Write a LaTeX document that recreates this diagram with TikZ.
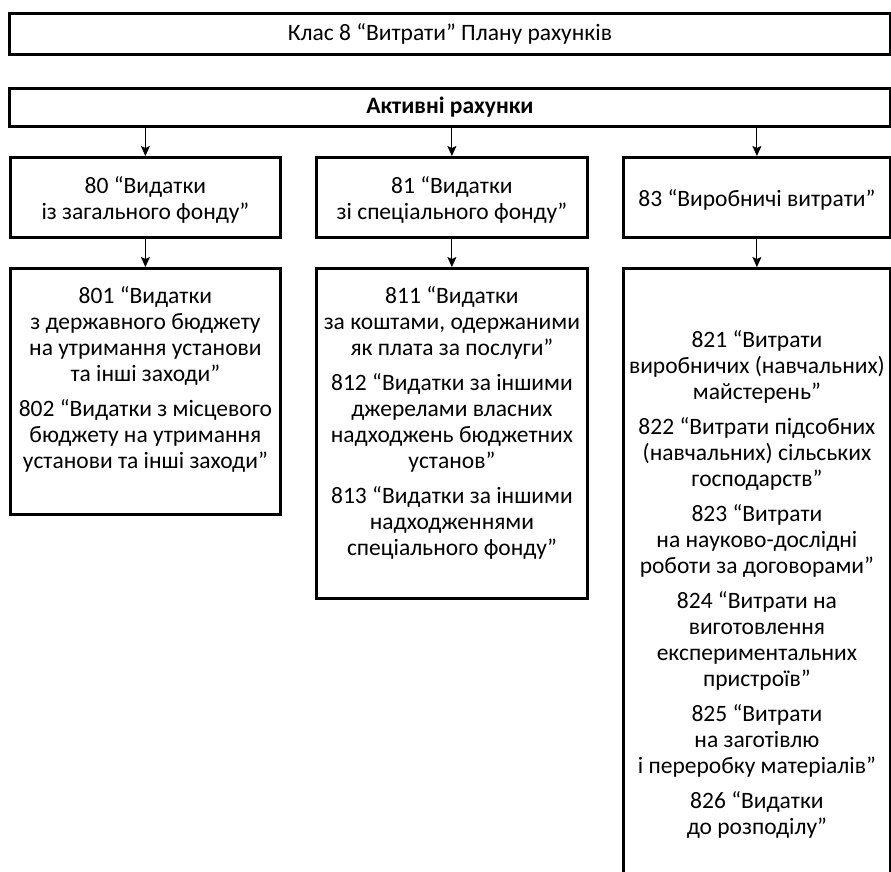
\documentclass[tikz,border=0pt]{standalone}
\usepackage{fontspec}
\setmainfont{Carlito}
\usetikzlibrary{arrows.meta}
% taller first line, sets the text of a box slightly lower
\newcommand{\lowstrut}{\rule{0pt}{22pt}}
\begin{document}
\begin{tikzpicture}[x=1pt,y=-1pt,
  frame/.style={draw,line width=2.8pt,inner sep=0pt},
  label/.style={font=\fontsize{23.5}{26}\selectfont,align=center,inner sep=0pt},
  link/.style={line width=1pt,-{Stealth[length=10pt,width=9pt,inset=2pt]}}]
\useasboundingbox (0,0) rectangle (891,871);

% header boxes
\node[frame,minimum width=881pt,minimum height=41pt,
      label,anchor=north west] (cls) at (8,12) {Клас 8 “Витрати” Плану рахунків};
\node[frame,minimum width=881pt,minimum height=38pt,
      label,font=\fontsize{23.5}{26}\selectfont\bfseries,anchor=north west] (act) at (8,87) {Активні рахунки};

% second row
\node[frame,minimum width=270pt,minimum height=80pt,label,anchor=north west] (s80) at (9,156)
  {\lowstrut 80 “Видатки\\із загального фонду”};
\node[frame,minimum width=271pt,minimum height=80pt,label,anchor=north west] (s81) at (315,156)
  {\lowstrut 81 “Видатки\\зі спеціального фонду”};
\node[frame,minimum width=267pt,minimum height=80pt,label,anchor=north west] (s83) at (622,156)
  {\lowstrut 83 “Виробничі витрати”};

% sub-account frames
\node[frame,minimum width=270pt,minimum height=246pt,anchor=north west] (b80) at (9,267) {};
\node[frame,minimum width=271pt,minimum height=330pt,anchor=north west] (b81) at (315,267) {};
\node[frame,minimum width=267pt,minimum height=640pt,anchor=north west] (b83) at (622,267) {};

% sub-account lists
\node[label,anchor=north] (t80) at ([yshift=-19pt]b80.north)
  {801 “Видатки\\з державного бюджету\\на утримання установи\\та інші заходи”\\[9pt]
   802 “Видатки з місцевого\\бюджету на утримання\\установи та інші заходи”};
\node[label,anchor=north] (t81) at ([yshift=-19pt]b81.north)
  {811 “Видатки\\за коштами, одержаними\\як плата за послуги”\\[9pt]
   812 “Видатки за іншими\\джерелами власних\\надходжень бюджетних\\установ”\\[9pt]
   813 “Видатки за іншими\\надходженнями\\спеціального фонду”};
\node[label,anchor=north] (t83) at ([yshift=-63pt]b83.north)
  {821 “Витрати\\виробничих (навчальних)\\майстерень”\\[9pt]
   822 “Витрати підсобних\\(навчальних) сільських\\господарств”\\[9pt]
   823 “Витрати\\на науково-дослідні\\роботи за договорами”\\[9pt]
   824 “Витрати на\\виготовлення\\експериментальних\\пристроїв”\\[9pt]
   825 “Витрати\\на заготівлю\\і переробку матеріалів”\\[9pt]
   826 “Видатки\\до розподілу”};

% connectors
\draw[link] (act.south -| s80.north) -- (s80.north);
\draw[link] (act.south -| s81.north) -- (s81.north);
\draw[link] (act.south -| s83.north) -- (s83.north);
\draw[link] (s80.south) -- (b80.north);
\draw[link] (s81.south) -- (b81.north);
\draw[link] (s83.south) -- (b83.north);
\end{tikzpicture}
\end{document}
